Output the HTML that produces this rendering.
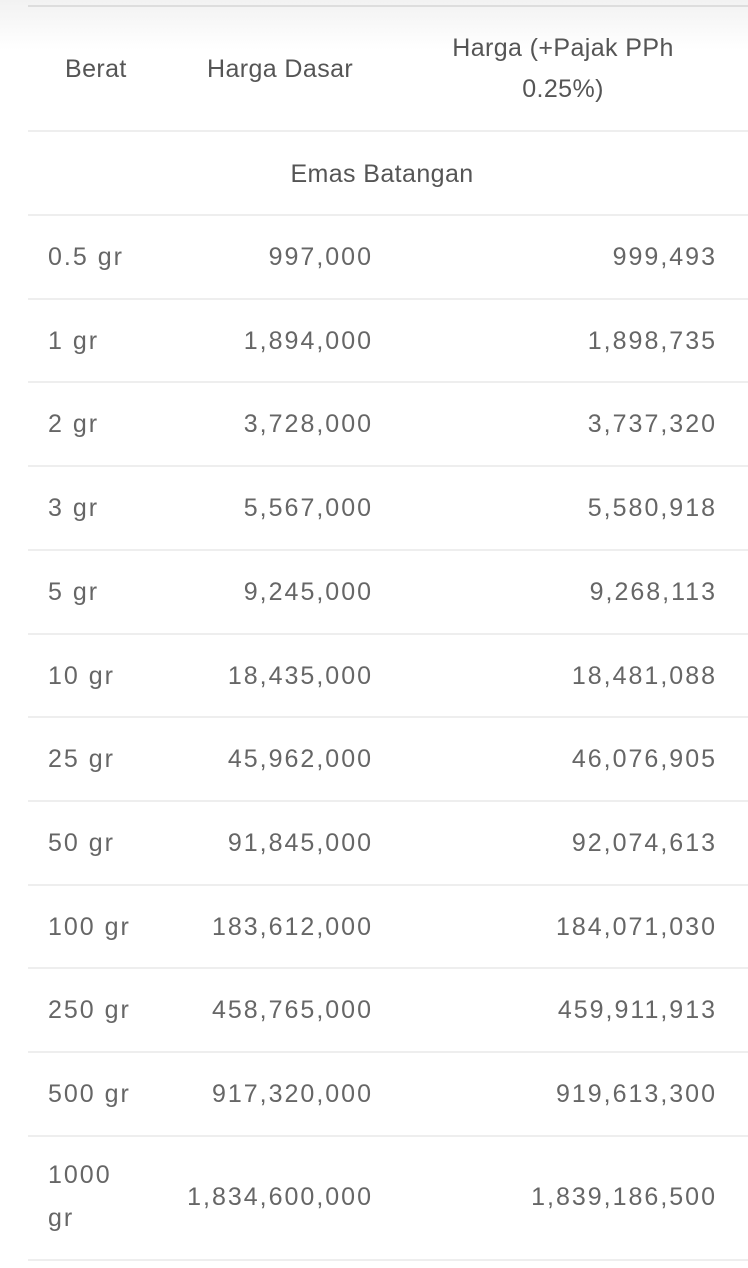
<!DOCTYPE html>
<html><head><meta charset="utf-8"><style>
body{margin:0;width:748px;height:1268px;background:#fff;font-family:"Liberation Sans",sans-serif;color:#666;position:relative;overflow:hidden}
.hl{position:absolute;left:28px;width:720px;height:2px;background:#eee}
.t{position:absolute;font-size:25px;line-height:30px;white-space:nowrap;letter-spacing:2px}
.h{color:#555;letter-spacing:0.4px}
.r{text-align:right}
</style></head><body>
<div style="position:absolute;left:0;top:0;width:748px;height:50px;background:linear-gradient(#f2f2f2,#fff)"></div>
<div class="hl" style="top:5px;background:#ddd"></div>
<div class="t h" style="left:65px;top:54px">Berat</div>
<div class="t h" style="left:207px;top:54px">Harga Dasar</div>
<div class="t h" style="left:443px;top:28px;width:240px;text-align:center;line-height:41px;white-space:normal">Harga (+Pajak PPh 0.25%)</div>
<div class="hl" style="top:130px"></div>
<div class="t h" style="left:0;width:764px;text-align:center;top:159px">Emas Batangan</div>
<div class="hl" style="top:214px"></div>
<div id="rows"></div>
<script>
var d=[["0.5 gr","997,000","999,493"],["1 gr","1,894,000","1,898,735"],["2 gr","3,728,000","3,737,320"],["3 gr","5,567,000","5,580,918"],["5 gr","9,245,000","9,268,113"],["10 gr","18,435,000","18,481,088"],["25 gr","45,962,000","46,076,905"],["50 gr","91,845,000","92,074,613"],["100 gr","183,612,000","184,071,030"],["250 gr","458,765,000","459,911,913"],["500 gr","917,320,000","919,613,300"]];
var h="";
for(var i=0;i<d.length;i++){var y=214+i*83.7;
h+='<div class="t" style="left:48px;top:'+(y+28)+'px">'+d[i][0]+'</div>';
h+='<div class="t r" style="right:375px;top:'+(y+28)+'px">'+d[i][1]+'</div>';
h+='<div class="t r" style="right:31px;top:'+(y+28)+'px">'+d[i][2]+'</div>';
h+='<div class="hl" style="top:'+Math.round(y+83.7)+'px"></div>';}
h+='<div class="t" style="left:48px;top:1160px">1000</div><div class="t" style="left:48px;top:1203px">gr</div>';
h+='<div class="t r" style="right:375px;top:1182px">1,834,600,000</div>';
h+='<div class="t r" style="right:31px;top:1182px">1,839,186,500</div>';
h+='<div class="hl" style="top:1259px"></div>';
document.getElementById("rows").innerHTML=h;
</script>
</body></html>
